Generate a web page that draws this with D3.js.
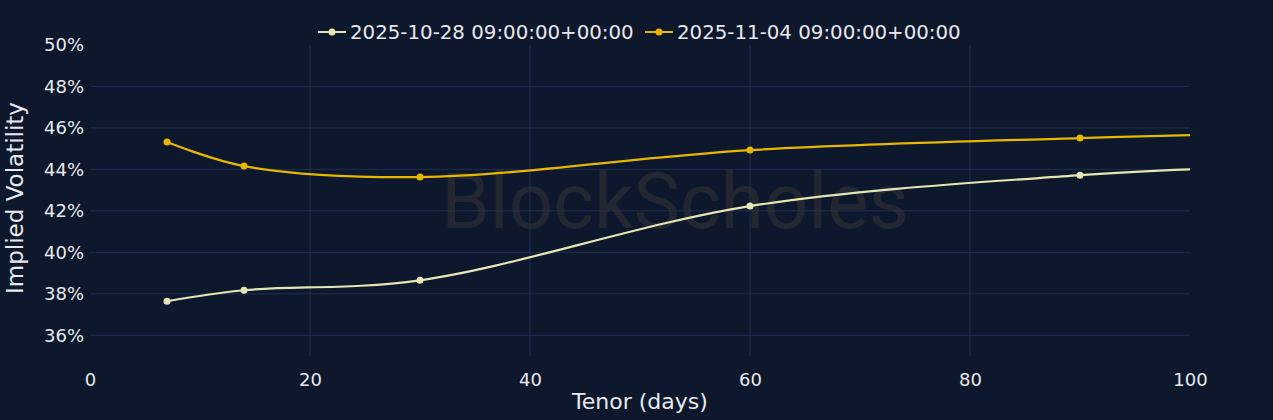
<!DOCTYPE html>
<html>
<head>
<meta charset="utf-8">
<script src="https://cdn.jsdelivr.net/npm/d3@7"></script>
<style>
    body { margin: 0; background: #0e182d; }
    svg { display: block; }
</style>
</head>
<body>
<div class="chart"></div>
<script>
const seriesNames = ['2025-10-28 09:00:00+00:00', '2025-11-04 09:00:00+00:00'];
const seriesColors = ['#e6e6b4', '#e8b800'];
const tenors = [7, 14, 30, 60, 90, 100];
const markerTenors = [7, 14, 30, 60, 90];
const volOct28 = [37.64, 38.17, 38.65, 42.23, 43.72, 44.0];
const volNov04 = [45.32, 44.16, 43.63, 44.93, 45.51, 45.65];
const xTicks = [0, 20, 40, 60, 80, 100];
const yTicks = [36, 38, 40, 42, 44, 46, 48, 50];

const width = 1273;
const height = 420;
const margin = { top: 45, right: 83, bottom: 64, left: 90 };
const font = 'DejaVu Sans';
const textColor = '#e8e8ec';
const gridColor = '#1f2e52';

const svg = d3.select('.chart')
    .append('svg')
    .attr('width', width)
    .attr('height', height);

svg.append('rect')
    .attr('width', width)
    .attr('height', height)
    .attr('fill', '#0e182d');

const x = d3.scaleLinear()
    .domain([0, 100])
    .range([margin.left, width - margin.right]);

const y = d3.scaleLinear()
    .domain([35, 50])
    .range([height - margin.bottom, margin.top]);

// grid
svg.append('g')
    .selectAll('line')
    .data(yTicks.filter(d => d < 50))
    .enter()
    .append('line')
    .attr('x1', x(0))
    .attr('x2', x(100))
    .attr('y1', d => y(d))
    .attr('y2', d => y(d))
    .attr('stroke', gridColor)
    .attr('stroke-width', 1);

svg.append('g')
    .selectAll('line')
    .data(xTicks.filter(d => d > 0 && d < 100))
    .enter()
    .append('line')
    .attr('x1', d => x(d))
    .attr('x2', d => x(d))
    .attr('y1', y(50))
    .attr('y2', y(35))
    .attr('stroke', gridColor)
    .attr('stroke-width', 1);

// watermark
svg.append('text')
    .attr('x', 675)
    .attr('y', 228)
    .attr('text-anchor', 'middle')
    .attr('fill', '#3b3a36')
    .attr('opacity', 0.45)
    .style('font-family', 'Roboto')
    .style('font-size', '78px')
    .text('BlockScholes');

// axes
const xAxis = svg.append('g')
    .attr('transform', `translate(0,${y(35)})`)
    .call(d3.axisBottom(x).tickValues(xTicks).tickSize(0).tickPadding(17));

const yAxis = svg.append('g')
    .attr('transform', `translate(${x(0)},0)`)
    .call(d3.axisLeft(y).tickValues(yTicks).tickSize(0).tickPadding(6)
        .tickFormat(d => `${d}%`));

[xAxis, yAxis].forEach(axis => {
    axis.select('.domain').remove();
    axis.selectAll('text')
        .attr('fill', textColor)
        .style('font-family', font)
        .style('font-size', '18px');
});

svg.append('text')
    .attr('x', x(50))
    .attr('y', 409)
    .attr('text-anchor', 'middle')
    .attr('fill', textColor)
    .style('font-family', font)
    .style('font-size', '22px')
    .text('Tenor (days)');

svg.append('text')
    .attr('transform', 'translate(23,198) rotate(-90)')
    .attr('text-anchor', 'middle')
    .attr('fill', textColor)
    .style('font-family', font)
    .style('font-size', '23px')
    .text('Implied Volatility');

// series
const line = d3.line()
    .x(d => x(d.tenor))
    .y(d => y(d.vol))
    .curve(d3.curveCatmullRom.alpha(0.5));

[volOct28, volNov04].forEach((vols, i) => {
    const points = tenors.map((tenor, j) => ({ tenor, vol: vols[j] }));

    svg.append('path')
        .datum(points)
        .attr('d', line)
        .attr('fill', 'none')
        .attr('stroke', seriesColors[i])
        .attr('stroke-width', 2.2);

    svg.append('g')
        .selectAll('circle')
        .data(points.filter(d => markerTenors.includes(d.tenor)))
        .enter()
        .append('circle')
        .attr('cx', d => x(d.tenor))
        .attr('cy', d => y(d.vol))
        .attr('r', 3.5)
        .attr('fill', seriesColors[i]);
});

// legend
const legendX = [318, 645];
const legend = svg.append('g')
    .selectAll('g')
    .data(seriesNames)
    .enter()
    .append('g')
    .attr('transform', (d, i) => `translate(${legendX[i]},32)`);

legend.append('line')
    .attr('x1', 0)
    .attr('x2', 28)
    .attr('stroke', (d, i) => seriesColors[i])
    .attr('stroke-width', 2);

legend.append('circle')
    .attr('cx', 14)
    .attr('r', 3.5)
    .attr('fill', (d, i) => seriesColors[i]);

legend.append('text')
    .attr('x', 32)
    .attr('dy', '0.35em')
    .attr('fill', textColor)
    .style('font-family', font)
    .style('font-size', '19.8px')
    .text(d => d);
</script>
</body>
</html>
